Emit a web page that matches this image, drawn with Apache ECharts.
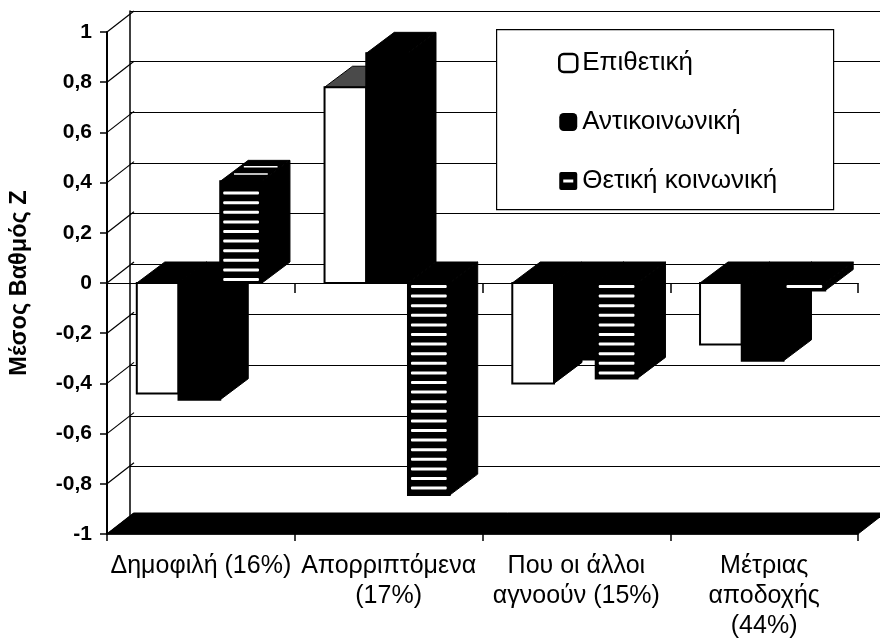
<!DOCTYPE html>
<html>
<head>
<meta charset="utf-8">
<script src="https://cdn.jsdelivr.net/npm/echarts@6/dist/echarts.min.js"></script>
<style>
  html, body { margin: 0; padding: 0; background: #fff; }
  #chart { width: 880px; height: 641px; }
</style>
</head>
<body>
<div id="chart"></div>
<script>
// ---- data ----
const categories = ['Δημοφιλή (16%)', 'Απορριπτόμενα\n(17%)', 'Που οι άλλοι\nαγνοούν (15%)', 'Μέτριας\nαποδοχής\n(44%)'];
const seriesNames = ['Επιθετική', 'Αντικοινωνική', 'Θετική κοινωνική'];
const aggressive = [-0.44, 0.78, -0.40, -0.245];
const antisocial = [-0.465, 0.915, -0.305, -0.31];
const prosocial = [0.405, -0.845, -0.38, -0.03];
const yTicks = [-1, -0.8, -0.6, -0.4, -0.2, 0, 0.2, 0.4, 0.6, 0.8, 1];
const yTickLabels = ['-1', '-0,8', '-0,6', '-0,4', '-0,2', '0', '0,2', '0,4', '0,6', '0,8', '1'];
const axisTitle = 'Μέσος Βαθμός Z';

// ---- drawing settings ----
const FONT = "'Liberation Sans', Arial, sans-serif";
const DX = 28, DY = -21;     // bar depth
const WDX = 27, WDY = -21;   // wall depth
const GAP = 1 / 3;

function barRenderer(idx, kind) {
  return function (params, api) {
    const ci = api.value(0), v = api.value(1);
    const base = api.coord([ci, 0]);
    const end = api.coord([ci, v]);
    const band = api.size([1, 0])[0];
    const bw = band * (1 - GAP) / 3;
    const x0 = base[0] - 1.5 * bw + idx * bw - 1.5;
    const x1 = x0 + bw;
    const y0 = base[1], yv = end[1];
    const yTop = Math.min(y0, yv), yBot = Math.max(y0, yv);
    const children = [];
    let frontFill = '#000', sideFill = '#000', topFill = '#000';
    if (kind === 'white') {
      frontFill = '#fff';
      topFill = v >= 0 ? '#4a4a4a' : '#000';
    }
    children.push({
      type: 'polygon',
      shape: { points: [[x1, yTop], [x1 + DX, yTop + DY], [x1 + DX, yBot + DY], [x1, yBot]] },
      style: { fill: sideFill, stroke: '#000', lineWidth: 1 }
    });
    children.push({
      type: 'polygon',
      shape: { points: [[x0, yTop], [x1, yTop], [x1 + DX, yTop + DY], [x0 + DX, yTop + DY]] },
      style: { fill: topFill, stroke: '#000', lineWidth: 1 }
    });
    children.push({
      type: 'rect',
      shape: { x: x0, y: yTop, width: bw, height: yBot - yTop },
      style: { fill: frontFill, stroke: '#000', lineWidth: 2 }
    });
    if (kind === 'hatch') {
      const len = yBot - yTop;
      const sgn = yv > y0 ? 1 : -1;
      const P = 9.6;
      for (let k = 0; ; k++) {
        const d = 2 + k * P;
        if (d + 3 > len - 2) break;
        const ys = sgn > 0 ? y0 + d : y0 - d - 3;
        children.push({
          type: 'rect',
          shape: { x: x0 + 3, y: ys, width: bw - 6, height: 3, r: 1 },
          style: { fill: '#fff' }
        });
      }
      if (v >= 0) {
        [0.35, 0.7].forEach(function (t) {
          children.push({
            type: 'line',
            shape: { x1: x0 + 4 + t * DX, y1: yTop + t * DY, x2: x1 - 4 + t * DX, y2: yTop + t * DY },
            style: { stroke: '#fff', lineWidth: 1.5 }
          });
        });
      }
    }
    return { type: 'group', children: children };
  };
}

function frameRenderer(params, api) {
  const cs = params.coordSys;
  const v = api.value(1);
  const p = api.coord([0, v]);
  const x = cs.x, y = p[1];
  const children = [];
  children.push({
    type: 'line',
    shape: { x1: x, y1: y, x2: x + WDX, y2: y + WDY },
    style: { stroke: '#000', lineWidth: 1.2 }
  });
  if (v === -1) {
    children.push({
      type: 'polygon',
      shape: { points: [[x, y], [x + cs.width, y], [x + cs.width + WDX, y + WDY], [x + WDX, y + WDY]] },
      style: { fill: '#000', stroke: '#000', lineWidth: 1 }
    });
  }
  return { type: 'group', children: children };
}

const hatchIcon = 'path://M2,0 L16,0 Q18,0 18,2 L18,16 Q18,18 16,18 L2,18 Q0,18 0,16 L0,2 Q0,0 2,0 Z M4,7.5 L4,10.5 L14,10.5 L14,7.5 Z';

const chart = echarts.init(document.getElementById('chart'), null, { renderer: 'canvas' });
const option = {
  animation: false,
  backgroundColor: '#fff',
  textStyle: { fontFamily: FONT },
  grid: [
    { left: 103, top: 32, width: 755, height: 506 },
    { left: 103 + WDX, top: 32 + WDY, width: 755, height: 506 }
  ],
  xAxis: [
    {
      gridIndex: 0, type: 'category', data: categories, position: 'bottom',
      axisLine: { onZero: false, lineStyle: { color: '#000', width: 1.5 } },
      axisTick: { show: true, length: 7, lineStyle: { color: '#000', width: 1.5 } },
      axisLabel: { color: '#000', fontSize: 25, lineHeight: 30, margin: 17, fontFamily: FONT, interval: 0 }
    },
    {
      gridIndex: 0, type: 'category', data: categories, position: 'top',
      axisLine: { onZero: true, lineStyle: { color: '#000', width: 1.2 } },
      axisTick: { show: true, inside: true, length: 10, lineStyle: { color: '#000', width: 1.5 } },
      axisLabel: { show: false }
    },
    { gridIndex: 1, type: 'category', data: categories, show: false }
  ],
  yAxis: [
    {
      gridIndex: 0, type: 'value', min: -1, max: 1, interval: 0.2,
      name: axisTitle, nameLocation: 'middle', nameRotate: 90, nameGap: 75,
      nameTextStyle: { color: '#000', fontSize: 23.5, fontWeight: 'bold', fontFamily: FONT },
      axisLine: { show: true, lineStyle: { color: '#000', width: 2 } },
      axisTick: { show: true, length: 7, lineStyle: { color: '#000', width: 1.5 } },
      splitLine: { show: false },
      axisLabel: {
        color: '#000', fontSize: 21, fontWeight: 'bold', margin: 15, fontFamily: FONT,
        formatter: function (val) {
          const i = yTicks.findIndex(function (t) { return Math.abs(t - val) < 1e-6; });
          return i >= 0 ? yTickLabels[i] : '';
        }
      }
    },
    {
      gridIndex: 1, type: 'value', min: -1, max: 1, interval: 0.2,
      axisLine: { show: true, lineStyle: { color: '#000', width: 1.5 } },
      axisTick: { show: false }, axisLabel: { show: false },
      splitLine: { show: true, lineStyle: { color: '#000', width: 1.2 } }
    }
  ],
  legend: {
    orient: 'vertical', left: 558, top: 50, padding: 0, z: 12,
    itemWidth: 18, itemHeight: 18, itemGap: 33,
    textStyle: { color: '#000', fontSize: 26, lineHeight: 26, fontFamily: FONT },
    selectedMode: false,
    data: [
      { name: seriesNames[0], icon: 'roundRect', itemStyle: { color: '#fff', borderColor: '#000', borderWidth: 2.5 } },
      { name: seriesNames[1], icon: 'roundRect', itemStyle: { color: '#000' } },
      { name: seriesNames[2], icon: hatchIcon, itemStyle: { color: '#000' } }
    ]
  },
  graphic: [
    {
      type: 'rect', z: 10, left: 496, top: 29,
      shape: { width: 337, height: 180 },
      style: { fill: '#fff', stroke: '#000', lineWidth: 1.2 }
    }
  ],
  series: [
    {
      type: 'custom', name: 'frame', xAxisIndex: 0, yAxisIndex: 0, clip: false, silent: true,
      renderItem: frameRenderer,
      data: yTicks.map(function (v) { return [0, v]; })
    },
    {
      type: 'custom', name: seriesNames[0], xAxisIndex: 0, yAxisIndex: 0, clip: false,
      itemStyle: { color: '#fff' },
      renderItem: barRenderer(0, 'white'),
      data: aggressive.map(function (v, i) { return [i, v]; })
    },
    {
      type: 'custom', name: seriesNames[1], xAxisIndex: 0, yAxisIndex: 0, clip: false,
      itemStyle: { color: '#000' },
      renderItem: barRenderer(1, 'black'),
      data: antisocial.map(function (v, i) { return [i, v]; })
    },
    {
      type: 'custom', name: seriesNames[2], xAxisIndex: 0, yAxisIndex: 0, clip: false,
      itemStyle: { color: '#000' },
      renderItem: barRenderer(2, 'hatch'),
      data: prosocial.map(function (v, i) { return [i, v]; })
    }
  ]
};
chart.setOption(option);
</script>
</body>
</html>
